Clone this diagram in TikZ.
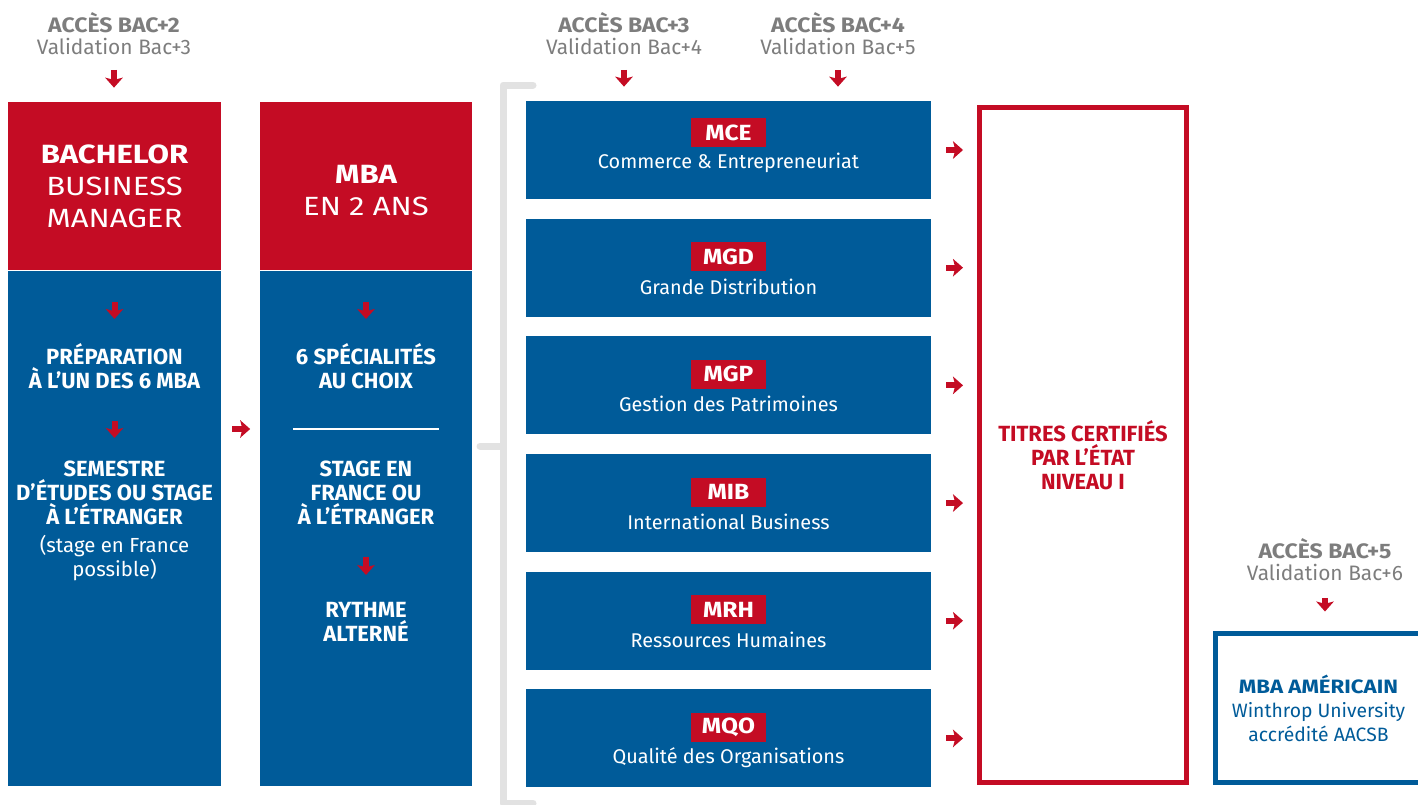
\documentclass[tikz,border=0pt]{standalone}
\usepackage{fontspec}
\setmainfont{Fira Sans}
\usepackage{xcolor}
\usepackage{tikz}
\usetikzlibrary{arrows.meta, positioning}

\definecolor{schoolred}{RGB}{196,12,36}
\definecolor{schoolblue}{RGB}{0,91,153}
\definecolor{accgray}{RGB}{125,125,125}
\definecolor{bracketgray}{RGB}{226,226,226}

\newcommand{\widebold}[2]{{\bfseries\addfontfeatures{FakeStretch=#1}#2}}

\tikzstyle{redhead} = [rectangle, minimum width=4.26cm, minimum height=3.36cm, inner sep=0pt, align=center, fill=schoolred, text=white, font=\fontsize{15}{18.2}\selectfont\addfontfeatures{FakeStretch=1.18}]
\tikzstyle{bluebody} = [rectangle, minimum width=4.26cm, minimum height=10.3cm, inner sep=0pt, fill=schoolblue]
\tikzstyle{bodytext} = [align=center, text=white, font=\fontsize{12.5}{13.7}\selectfont\bfseries]
\tikzstyle{access} = [align=center, text=accgray, font=\fontsize{11.9}{12.5}\selectfont]
\tikzstyle{specbox} = [rectangle, minimum width=8.1cm, minimum height=1.96cm, inner sep=0pt, fill=schoolblue]
\tikzstyle{tag} = [rectangle, minimum width=1.52cm, minimum height=0.58cm, inner sep=0pt, fill=schoolred, text=white, font=\fontsize{12.5}{14}\selectfont\bfseries\addfontfeatures{FakeStretch=1.12}]
\tikzstyle{subtitle} = [text=white, font=\fontsize{11.3}{13}\selectfont]
\tikzstyle{framebox} = [rectangle, line width=0.1cm, minimum width=4.14cm, inner sep=0pt, align=center]
\tikzstyle{arrow} = [line width=0.12cm, draw=schoolred, -{Stealth[length=0.2cm, width=0.35cm, inset=0.045cm]}]
\tikzstyle{bracket} = [line width=0.14cm, draw=bracketgray, line cap=round, line join=round]

\begin{document}
\begin{tikzpicture}[x=0.02cm, y=-0.02cm]
\useasboundingbox (0,0) rectangle (1418,805);

% Nodes
\node (acc2) [access] at (114,34) {\widebold{1.1}{ACCÈS BAC+2}\\Validation Bac+3};
\node (acc3) [access] at (624,34) {\widebold{1.1}{ACCÈS BAC+3}\\Validation Bac+4};
\node (acc4) [access] at (838,34) {\widebold{1.1}{ACCÈS BAC+4}\\Validation Bac+5};
\node (acc5) [access] at (1325,560) {\widebold{1.1}{ACCÈS BAC+5}\\Validation Bac+6};

\node (bachR) [redhead] at (114.5,186) {\widebold{1.18}{BACHELOR}\\BUSINESS\\MANAGER};
\node (bachB) [bluebody, below=0pt of bachR] {};
\node (prep) [bodytext] at (114.5,366) {PRÉPARATION\\À L’UN DES 6 MBA};
\node (sem) [bodytext] at (114.5,493) {SEMESTRE\\D’ÉTUDES OU STAGE\\À L’ÉTRANGER};
\node (poss) [bodytext, font=\fontsize{11.6}{13.7}\selectfont] at (114.5,558) {(stage en France\\possible)};

\node (mbaR) [redhead] at (366,186) {\rule{0pt}{16pt}\widebold{1.18}{MBA}\\EN 2 ANS};
\node (mbaB) [bluebody, below=0pt of mbaR] {};
\node (spec) [bodytext] at (366,366) {6 SPÉCIALITÉS\\AU CHOIX};
\node (stage) [bodytext] at (366,493) {STAGE EN\\FRANCE OU\\À L’ÉTRANGER};
\node (rythme) [bodytext] at (366,622) {RYTHME\\ALTERNÉ};
\coordinate (ruleL) at (293,429);
\coordinate (ruleR) at (439,429);

\node (mce) [specbox] at (728.5,150) {};
\node (mgd) [specbox, below=0.38cm of mce] {};
\node (mgp) [specbox, below=0.38cm of mgd] {};
\node (mib) [specbox, below=0.38cm of mgp] {};
\node (mrh) [specbox, below=0.38cm of mib] {};
\node (mqo) [specbox, below=0.38cm of mrh] {};

\node (mcetag) [tag] at ([yshift=0.35cm]mce.center) {MCE};
\node (mcesub) [subtitle] at ([yshift=-0.26cm]mce.center) {Commerce \& Entrepreneuriat};
\node (mgdtag) [tag] at ([yshift=0.22cm]mgd.center) {MGD};
\node (mgdsub) [subtitle] at ([yshift=-0.38cm]mgd.center) {Grande Distribution};
\node (mgptag) [tag] at ([yshift=0.22cm]mgp.center) {MGP};
\node (mgpsub) [subtitle] at ([yshift=-0.38cm]mgp.center) {Gestion des Patrimoines};
\node (mibtag) [tag] at ([yshift=0.22cm]mib.center) {MIB};
\node (mibsub) [subtitle] at ([yshift=-0.38cm]mib.center) {International Business};
\node (mrhtag) [tag] at ([yshift=0.22cm]mrh.center) {MRH};
\node (mrhsub) [subtitle] at ([yshift=-0.38cm]mrh.center) {Ressources Humaines};
\node (mqotag) [tag] at ([yshift=0.22cm]mqo.center) {MQO};
\node (mqosub) [subtitle] at ([yshift=-0.38cm]mqo.center) {Qualité des Organisations};

\node (titres) [framebox, draw=schoolred, minimum height=13.5cm] at (1083,445) {};
\node (titrestext) [bodytext, text=schoolred] at (1083,455) {TITRES CERTIFIÉS\\PAR L’ÉTAT\\NIVEAU I};

\node (usmba) [framebox, draw=schoolblue, minimum height=2.98cm, text=schoolblue, font=\fontsize{11}{13.7}\selectfont] at (1318.5,708) {\widebold{1.15}{MBA AMÉRICAIN}\\Winthrop University\\accrédité AACSB};

% Bracket
\draw [bracket] (533,85) -- (503,85) -- (503,803) -- (533,803);
\draw [bracket] (480,446) -- (503,446);
\draw [white, line width=0.04cm] (ruleL) -- (ruleR);

% Arrows
\draw [arrow, shorten <=0.72cm, shorten >=0.28cm] (acc2.center) -- (acc2.center |- bachR.north);
\draw [arrow, shorten <=0.72cm, shorten >=0.28cm] (acc3.center) -- (acc3.center |- mce.north);
\draw [arrow, shorten <=0.72cm, shorten >=0.28cm] (acc4.center) -- (acc4.center |- mce.north);
\draw [arrow, shorten <=0.76cm, shorten >=0.39cm] (acc5.center) -- (acc5.center |- usmba.north);
\draw [arrow, shorten <=0.64cm, shorten >=0.94cm] (bachR.south) -- (prep.center);
\draw [arrow, shorten <=1.1cm, shorten >=1.1cm] (prep.center) -- (sem.center);
\draw [arrow, shorten <=0.64cm, shorten >=0.94cm] (mbaR.south) -- (spec.center);
\draw [arrow, shorten <=1.28cm, shorten >=0.94cm] (stage.center) -- (rythme.center);
\draw [arrow, shorten <=0.22cm, shorten >=0.18cm] (bachB.east |- ruleL) -- (mbaB.west |- ruleL);
\draw [arrow, shorten <=0.3cm, shorten >=0.28cm] (mce.east) -- (mce.east -| titres.west);
\draw [arrow, shorten <=0.3cm, shorten >=0.28cm] (mgd.east) -- (mgd.east -| titres.west);
\draw [arrow, shorten <=0.3cm, shorten >=0.28cm] (mgp.east) -- (mgp.east -| titres.west);
\draw [arrow, shorten <=0.3cm, shorten >=0.28cm] (mib.east) -- (mib.east -| titres.west);
\draw [arrow, shorten <=0.3cm, shorten >=0.28cm] (mrh.east) -- (mrh.east -| titres.west);
\draw [arrow, shorten <=0.3cm, shorten >=0.28cm] (mqo.east) -- (mqo.east -| titres.west);

\end{tikzpicture}
\end{document}
